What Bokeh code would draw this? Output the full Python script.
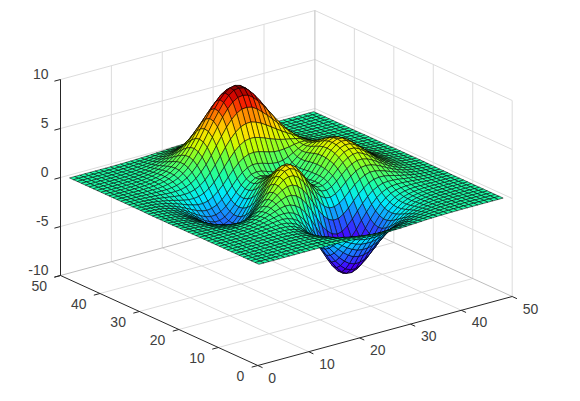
import numpy as np
from bokeh.plotting import figure
from bokeh.models import Range1d, ColumnDataSource
from bokeh.core.properties import value
from bokeh.embed import file_html
from bokeh.resources import INLINE

# Axis ticks
x_ticks = [0, 10, 20, 30, 40, 50]
y_ticks = [0, 10, 20, 30, 40, 50]
z_ticks = [-10, -5, 0, 5, 10]

# Surface heights, estimated by hand node by node; row = y index 1..49, column = x index 1..49
z_rows = [
[0, 0,0,0,0, 0,0,0,0, 0,0,0,0, -.01,-.01,-.02,-.03, -.05,-.08,-.11,-.14, -.18,-.21,-.23,-.25, -.25,-.25,-.24,-.22, -.2,-.17,-.14,-.11, -.08,-.06,-.04,-.03, -.02,-.01,-.01,0, 0,0,0,0, 0,0,0,0],
[0, 0,0,0,0, 0,0,0,0, 0,0,0,.01, 0,-.02,-.04,-.06, -.1,-.14,-.18,-.23, -.29,-.34,-.39,-.42, -.45,-.45,-.44,-.4, -.36,-.31,-.26,-.2, -.15,-.11,-.08,-.05, -.03,-.02,-.01,-.01, 0,0,0,0, 0,0,0,0],
[0, 0,0,0,0, 0,0,.01,.01, .01,.01,.01,0, -.01,-.03,-.06,-.09, -.15,-.22,-.3,-.39, -.47,-.55,-.62,-.68, -.71,-.7,-.67,-.61, -.54,-.46,-.38,-.3, -.23,-.17,-.12,-.08, -.05,-.03,-.02,-.02, -.01,0,0,0, 0,0,0,0],
[0, 0,0,0,0, 0,.01,.01,.01, .01,.01,.01,0, -.01,-.04,-.09,-.16, -.25,-.36,-.48,-.62, -.75,-.87,-.98,-1.06, -1.1,-1.1,-1.04,-.95, -.84,-.72,-.59,-.46, -.35,-.26,-.18,-.12, -.08,-.05,-.03,-.02, -.01,0,0,0, 0,0,0,0],
[0, 0,0,0,0, .01,.01,.02,.02, .02,.02,.01,0, -.02,-.06,-.14,-.24, -.36,-.53,-.72,-.92, -1.12,-1.31,-1.46,-1.57, -1.6,-1.59,-1.53,-1.41, -1.24,-1.06,-.87,-.69, -.53,-.39,-.28,-.19, -.13,-.08,-.05,-.03, -.02,-.01,0,0, 0,0,0,0],
[0, 0,0,0,.01, .01,.01,.02,.02, .03,.03,.02,.01, -.03,-.1,-.19,-.33, -.52,-.75,-1.01,-1.29, -1.59,-1.86,-2.08,-2.23, -2.29,-2.27,-2.17,-2.0, -1.78,-1.51,-1.24,-.98, -.75,-.55,-.39,-.27, -.17,-.11,-.07,-.04, -.03,-.01,-.01,0, 0,0,0,0],
[0, 0,0,0,.01, .01,.02,.02,.03, .04,.03,.03,0, -.04,-.13,-.26,-.44, -.69,-1.0,-1.36,-1.75, -2.14,-2.51,-2.81,-3.02, -3.11,-3.09,-2.95,-2.72, -2.4,-2.05,-1.68,-1.33, -1.01,-.75,-.52,-.36, -.23,-.14,-.08,-.05, -.03,-.02,-.01,0, 0,0,0,0],
[0, 0,0,.01,.01, .01,.02,.03,.04, .05,.05,.04,.02, -.04,-.15,-.3,-.54, -.87,-1.27,-1.72,-2.2, -2.7,-3.18,-3.59,-3.88, -4.0,-3.97,-3.8,-3.52, -3.11,-2.65,-2.17,-1.7, -1.3,-.94,-.65,-.44, -.28,-.17,-.1,-.05, -.03,-.02,-.01,0, 0,0,0,0],
[0, 0,0,.01,.01, .02,.03,.04,.05, .06,.07,.07,.05, -.01,-.12,-.31,-.59, -.98,-1.45,-2.03,-2.63, -3.28,-3.88,-4.38,-4.76, -4.93,-4.92,-4.72,-4.35, -3.85,-3.26,-2.66,-2.1, -1.59,-1.14,-.8,-.53, -.33,-.2,-.12,-.06, -.03,-.02,-.01,0, 0,0,0,0],
[0, 0,0,.01,.01, .02,.03,.04,.06, .08,.1,.11,.1, .04,-.06,-.27,-.56, -.99,-1.52,-2.19,-2.91, -3.68,-4.41,-5.02,-5.49, -5.72,-5.73,-5.51,-5.08, -4.5,-3.82,-3.12,-2.44, -1.85,-1.32,-.91,-.59, -.37,-.22,-.12,-.06, -.03,-.02,-.01,0, 0,0,0,0],
[0, 0,0,.01,.01, .02,.03,.05,.07, .1,.13,.15,.16, .13,.05,-.14,-.44, -.88,-1.46,-2.18,-3.0, -3.86,-4.7,-5.41,-5.97, -6.27,-6.33,-6.11,-5.65, -5.0,-4.25,-3.46,-2.69, -2.01,-1.42,-.97,-.6, -.36,-.21,-.11,-.05, -.02,-.01,0,0, 0,0,0,0],
[0, 0,0,0,.01, .01,.02,.04,.08, .11,.15,.19,.24, .24,.2,.04,-.2, -.62,-1.19,-1.92,-2.76, -3.68,-4.6,-5.43,-6.06, -6.44,-6.53,-6.34,-5.88, -5.21,-4.42,-3.56,-2.76, -2.04,-1.4,-.93,-.57, -.32,-.17,-.07,-.02, .01,.01,.01,.01, 0,0,0,0],
[0, 0,0,0,.01, .01,.02,.04,.08, .13,.18,.24,.33, .38,.41,.35,.16, -.16,-.68,-1.34,-2.16, -3.1,-4.07,-4.96,-5.67, -6.1,-6.3,-6.15,-5.75, -5.09,-4.31,-3.44,-2.63, -1.89,-1.27,-.79,-.44, -.21,-.07,.01,.04, .04,.04,.03,.025, .02,.01,0,0],
[0, 0,0,0,.01, .01,.02,.04,.06, .11,.19,.27,.39, .52,.63,.67,.61, .42,.03,-.53,-1.31, -2.17,-3.14,-4.08,-4.84, -5.4,-5.66,-5.59,-5.26, -4.65,-3.91,-3.08,-2.29, -1.59,-.99,-.54,-.22, -.03,.08,.12,.12, .11,.09,.06,.04, .03,.02,.01,0],
[0, 0,0,0,0, 0,-.02,0,.03, .08,.17,.28,.45, .64,.83,1.01,1.11, 1.08,.87,.48,-.13, -.92,-1.84,-2.79,-3.6, -4.25,-4.6,-4.65,-4.42, -3.89,-3.24,-2.46,-1.74, -1.1,-.56,-.18,.08, .22,.26,.26,.22, .18,.14,.1,.06, .04,.03,.01,.01],
[0, 0,-.01,-.02,-.03, -.03,-.03,-.03,-.03, .02,.11,.25,.41, .67,.98,1.27,1.54, 1.74,1.75,1.54,1.1, .43,-.39,-1.28,-2.2, -2.85,-3.32,-3.48,-3.35, -2.93,-2.36,-1.68,-1.04, -.48,-.03,.27,.45, .5,.48,.43,.35, .27,.19,.13,.085, .05,.03,.02,.01],
[-.01, -.02,-.03,-.04,-.06, -.08,-.1,-.12,-.13, -.1,-.04,.09,.3, .6,.99,1.42,1.85, 2.23,2.45,2.47,2.22, 1.72,.99,.14,-.73, -1.47,-2.0,-2.25,-2.22, -1.91,-1.43,-.83,-.27, .2,.58,.8,.88, .86,.76,.63,.5, .38,.27,.18,.11, .07,.04,.02,.01],
[-.01, -.02,-.04,-.06,-.08, -.12,-.18,-.23,-.26, -.27,-.24,-.14,.07, .39,.82,1.4,1.95, 2.48,2.93,3.14,3.1, 2.76,2.16,1.37,.5, -.26,-.86,-1.18,-1.2, -.97,-.54,-.01,.49, .89,1.19,1.36,1.33, 1.22,1.05,.85,.66, .49,.35,.23,.145, .09,.05,.03,.017],
[-.01, -.03,-.06,-.09,-.12, -.2,-.3,-.38,-.42, -.48,-.5,-.42,-.28, .03,.5,1.1,1.78, 2.48,3.09,3.5,3.64, 3.43,2.94,2.22,1.4, .62,0,-.35,-.41, -.2,.2,.71,1.18, 1.55,1.79,1.85,1.77, 1.6,1.35,1.08,.82, .6,.42,.28,.18, .11,.06,.03,.02],
[-.01, -.04,-.07,-.11,-.16, -.25,-.37,-.48,-.6, -.75,-.83,-.85,-.72, -.45,.02,.64,1.38, 2.19,2.93,3.48,3.77, 3.71,3.31,2.66,1.89, 1.12,.51,.17,.11, .34,.77,1.28,1.76, 2.1,2.31,2.32,2.19, 1.95,1.63,1.3,.98, .72,.5,.33,.21, .13,.07,.04,.02],
[-.02, -.05,-.09,-.14,-.2, -.3,-.45,-.62,-.8, -.99,-1.17,-1.27,-1.21, -1.02,-.6,.02,.8, 1.66,2.5,3.16,3.56, 3.6,3.3,2.73,2.0, 1.28,.71,.39,.39, .66,1.13,1.69,2.2, 2.56,2.77,2.8,2.55, 2.24,1.87,1.48,1.12, .82,.58,.38,.24, .15,.09,.05,.03],
[-.02, -.05,-.09,-.15,-.22, -.33,-.53,-.73,-.99, -1.24,-1.5,-1.68,-1.72, -1.59,-1.22,-.64,.12, 1.01,1.91,2.64,3.11, 3.25,3.03,2.52,1.86, 1.19,.67,.42,.48, .83,1.36,2.0,2.53, 2.93,3.1,3.09,2.86, 2.5,2.09,1.66,1.25, .92,.65,.43,.26, .16,.1,.06,.03],
[-.03, -.06,-.1,-.17,-.26, -.4,-.6,-.85,-1.15, -1.47,-1.78,-2.04,-2.16, -2.12,-1.82,-1.31,-.56, .32,1.25,2.03,2.58, 2.78,2.63,2.18,1.58, .98,.52,.34,.48, .9,1.5,2.16,2.76, 3.18,3.37,3.34,3.08, 2.7,2.24,1.78,1.34, .98,.69,.46,.28, .17,.1,.06,.03],
[-.03, -.07,-.11,-.18,-.29, -.44,-.66,-.93,-1.26, -1.63,-2.0,-2.32,-2.51, -2.56,-2.34,-1.87,-1.18, -.31,.62,1.42,2.0, 2.26,2.17,1.81,1.27, .74,.36,.23,.43, .9,1.55,2.27,2.9, 3.33,3.54,3.49,3.21, 2.8,2.33,1.85,1.4, 1.02,.71,.48,.29, .18,.11,.06,.03],
[-.03, -.07,-.12,-.19,-.3, -.46,-.69,-.98,-1.33, -1.73,-2.14,-2.51,-2.77, -2.87,-2.7,-2.3,-1.65, -.83,.08,.88,1.48, 1.78,1.74,1.45,.98, .5,.2,.13,.375, .88,1.57,2.31,2.94, 3.38,3.59,3.55,3.27, 2.86,2.36,1.87,1.41, 1.04,.72,.48,.3, .18,.11,.06,.03],
[-.03, -.07,-.11,-.18,-.3, -.46,-.7,-1.0,-1.35, -1.76,-2.19,-2.59,-2.87, -3.03,-2.93,-2.57,-1.98, -1.21,-.34,.44,1.03, 1.35,1.36,1.12,.73, .33,.07,.05,.32, .85,1.54,2.27,2.9, 3.33,3.53,3.48,3.2, 2.79,2.32,1.84,1.39, 1.02,.71,.47,.29, .18,.11,.06,.03],
[-.03, -.06,-.1,-.17,-.29, -.45,-.68,-.97,-1.32, -1.73,-2.16,-2.56,-2.87, -3.04,-2.97,-2.69,-2.15, -1.45,-.64,.1,.68, 1.0,1.04,.83,.52, .17,-.04,-.02,.27, .8,1.47,2.17,2.76, 3.18,3.36,3.32,3.05, 2.66,2.21,1.76,1.32, .97,.68,.45,.27, .17,.1,.06,.03],
[-.03, -.05,-.09,-.15,-.27, -.42,-.63,-.92,-1.25, -1.62,-2.05,-2.42,-2.74, -2.91,-2.87,-2.63,-2.16, -1.52,-.78,-.1,.45, .77,.84,.69,.41, .14,-.03,0,.27, .76,1.37,2.03,2.58, 2.94,3.12,3.09,2.83, 2.46,2.05,1.62,1.21, .89,.62,.41,.25, .15,.09,.05,.03],
[-.03, -.05,-.08,-.14,-.25, -.38,-.57,-.82,-1.12, -1.47,-1.85,-2.22,-2.48, -2.66,-2.65,-2.43,-2.0, -1.42,-.76,-.12,.39, .7,.78,.68,.46, .24,.1,.13,.37, .8,1.35,1.9,2.38, 2.7,2.84,2.78,2.55, 2.22,1.84,1.44,1.09, .8,.56,.37,.23, .14,.08,.05,.03],
[-.02, -.04,-.07,-.12,-.2, -.33,-.5,-.72,-.98, -1.29,-1.62,-1.92,-2.16, -2.29,-2.26,-2.06,-1.67, -1.13,-.52,.07,.56, .89,1.0,.95,.77, .59,.46,.48,.64, .98,1.42,1.86,2.23, 2.46,2.55,2.47,2.25, 1.95,1.62,1.28,.95, .69,.48,.32,.2, .12,.07,.04,.02],
[-.01, -.03,-.06,-.1,-.18, -.28,-.42,-.6,-.82, -1.07,-1.33,-1.57,-1.76, -1.85,-1.78,-1.56,-1.16, -.64,-.05,.55,1.04, 1.38,1.55,1.54,1.42, 1.26,1.13,1.08,1.17, 1.38,1.65,1.94,2.18, 2.3,2.32,2.2,1.98, 1.7,1.4,1.1,.82, .6,.42,.28,.17, .1,.06,.03,.02],
[-.01, -.02,-.05,-.08,-.14, -.22,-.33,-.48,-.65, -.84,-1.04,-1.19,-1.31, -1.33,-1.22,-.93,-.51, .03,.65,1.27,1.81, 2.2,2.43,2.49,2.42, 2.27,2.11,1.99,1.95, 2.0,2.07,2.18,2.25, 2.24,2.15,1.99,1.75, 1.49,1.2,.94,.69, .5,.35,.23,.14, .09,.05,.03,.01],
[-.01, -.02,-.03,-.06,-.11, -.17,-.27,-.36,-.48, -.62,-.75,-.84,-.86, -.79,-.6,-.25,.23, .83,1.5,2.18,2.8, 3.28,3.59,3.71,3.69, 3.54,3.34,3.13,2.94, 2.78,2.66,2.55,2.44, 2.29,2.08,1.84,1.58, 1.3,1.03,.78,.58, .41,.28,.18,.11, .07,.04,.02,.01],
[0, -.01,-.02,-.04,-.08, -.12,-.18,-.25,-.33, -.41,-.47,-.48,-.43, -.27,0,.43,1.0, 1.67,2.43,3.19,3.89, 4.45,4.86,5.05,5.08, 4.92,4.68,4.36,4.02, 3.67,3.33,3.01,2.7, 2.39,2.07,1.76,1.44, 1.15,.9,.67,.485, .34,.23,.15,.09, .05,.03,.02,.01],
[0, -.01,-.01,-.03,-.05, -.08,-.11,-.15,-.2, -.23,-.22,-.18,-.05, .18,.54,1.05,1.69, 2.45,3.3,4.13,4.93, 5.57,6.06,6.35,6.39, 6.27,5.94,5.5,5.03, 4.5,3.98,3.46,2.97, 2.51,2.1,1.7,1.35, 1.04,.79,.58,.41, .28,.19,.12,.07, .04,.03,.01,.01],
[0, 0,-.01,-.02,-.03, -.04,-.06,-.08,-.09, -.08,-.03,.07,.27, .55,.98,1.55,2.25, 3.1,4.0,4.9,5.77, 6.47,7.03,7.35,7.43, 7.3,6.94,6.42,5.84, 5.14,4.47,3.8,3.18, 2.6,2.1,1.65,1.27, .95,.7,.5,.35, .24,.16,.1,.06, .04,.02,.01,.01],
[0, 0,0,-.01,-.02, -.02,-.02,-.02,-.01, .03,.12,.25,.47, .81,1.27,1.89,2.6, 3.46,4.39,5.31,6.16, 6.94,7.52,7.91,7.98, 7.87,7.46,6.9,6.22, 5.48,4.72,3.95,3.24, 2.6,2.05,1.58,1.18, .87,.62,.43,.29, .19,.13,.08,.05, .03,.02,.01,0],
[0, 0,0,0,-.01, -.01,0,.02,.05, .11,.21,.37,.62, .97,1.43,2.04,2.76, 3.58,4.49,5.4,6.27, 7.03,7.6,7.97,8.08, 7.94,7.56,7.0,6.3, 5.52,4.71,3.92,3.18, 2.52,1.94,1.48,1.08, .78,.55,.38,.25, .17,.11,.07,.04, .02,.01,.01,0],
[0, 0,0,0,0, .01,.02,.04,.08, .14,.25,.41,.65, 1.0,1.44,2.01,2.69, 3.47,4.31,5.16,5.98, 6.69,7.23,7.56,7.68, 7.54,7.21,6.67,6.0, 5.24,4.45,3.68,2.96, 2.32,1.77,1.33,.96, .68,.47,.32,.21, .14,.09,.05,.03, .02,.01,0,0],
[0, 0,0,0,0, .01,.02,.05,.08, .15,.25,.41,.63, .94,1.34,1.85,2.44, 3.13,3.87,4.63,5.35, 5.98,6.47,6.77,6.88, 6.76,6.46,5.97,5.36, 4.68,3.96,3.27,2.61, 2.05,1.55,1.15,.82, .57,.39,.26,.17, .11,.07,.04,.02, .01,.01,0,0],
[0, 0,0,0,0, .01,.02,.05,.08, .14,.23,.36,.56, .82,1.16,1.59,2.1, 2.67,3.3,3.95,4.56, 5.09,5.5,5.76,5.86, 5.76,5.5,5.09,4.57, 4.0,3.38,2.78,2.21, 1.72,1.3,.95,.68, .47,.32,.21,.13, .08,.05,.03,.02, .01,0,0,0],
[0, 0,0,0,0, .01,.02,.04,.07, .12,.19,.3,.46, .67,.95,1.3,1.7, 2.17,2.68,3.19,3.68, 4.09,4.42,4.64,4.72, 4.64,4.42,4.09,3.68, 3.22,2.74,2.25,1.78, 1.38,1.05,.76,.53, .37,.25,.16,.1, .06,.04,.02,.01, .01,0,0,0],
[0, 0,0,0,0, .01,.01,.03,.05, .09,.15,.24,.37, .53,.75,1.01,1.33, 1.68,2.07,2.46,2.84, 3.17,3.43,3.59,3.65, 3.59,3.43,3.17,2.85, 2.49,2.1,1.72,1.37, 1.06,.8,.58,.41, .28,.19,.12,.07, .05,.03,.02,.01, 0,0,0,0],
[0, 0,0,0,0, .01,.01,.02,.04, .07,.11,.17,.27, .39,.55,.75,.98, 1.24,1.53,1.82,2.09, 2.33,2.52,2.64,2.68, 2.64,2.52,2.33,2.09, 1.82,1.54,1.26,1.0, .77,.58,.42,.29, .2,.13,.08,.05, .03,.02,.01,.01, 0,0,0,0],
[0, 0,0,0,0, 0,.01,.02,.03, .05,.08,.13,.2, .28,.39,.53,.69, .87,1.07,1.27,1.47, 1.64,1.77,1.85,1.88, 1.85,1.77,1.64,1.47, 1.28,1.08,.88,.7, .54,.4,.29,.2, .14,.09,.05,.03, .02,.01,.01,0, 0,0,0,0],
[0, 0,0,0,0, 0,.01,.01,.02, .03,.05,.09,.13, .19,.26,.35,.47, .59,.72,.86,.99, 1.1,1.19,1.25,1.27, 1.25,1.19,1.1,.99, .86,.73,.59,.47, .36,.27,.19,.13, .09,.06,.03,.02, .01,.01,0,0, 0,0,0,0],
[0, 0,0,0,0, 0,0,.01,.01, .02,.03,.06,.09, .12,.17,.23,.3, .38,.47,.55,.64, .71,.77,.81,.82, .81,.77,.71,.64, .55,.47,.38,.3, .23,.17,.12,.09, .06,.04,.02,.01, .01,0,0,0, 0,0,0,0],
[0, 0,0,0,0, 0,0,0,.01, .01,.02,.03,.05, .07,.1,.14,.19, .23,.28,.34,.39, .43,.47,.49,.5, .49,.47,.43,.39, .34,.28,.23,.18, .14,.11,.07,.05, .04,.02,.01,.01, 0,0,0,0, 0,0,0,0],
[0, 0,0,0,0, 0,0,0,0, .01,.01,.02,.03, .05,.06,.09,.11, .14,.17,.2,.23, .26,.28,.3,.3, .3,.28,.26,.23, .2,.17,.14,.11, .09,.07,.05,.03, .02,.01,.01,0, 0,0,0,0, 0,0,0,0],
]

Z = np.array(z_rows, dtype=float)
ny, nx = Z.shape

# Orthographic view: screen position of the box corner and one data unit along each axis
ORIGIN = (257.3, 365.0)      # x=0, y=0, z=-10
EX = (254.4 / 50, -69.0 / 50)
EY = (-197.3 / 50, -90.0 / 50)
EZ = (0.0, -196.0 / 20)


def project(x, y, z):
    return (ORIGIN[0] + x * EX[0] + y * EY[0] + (z + 10) * EZ[0],
            ORIGIN[1] + x * EX[1] + y * EY[1] + (z + 10) * EZ[1])


STOPS_T = [0, .12, .25, .36, .45, .55, .62, .70, .80, .90, 1]
STOPS_R = [70, 70, 30, 0, 30, 110, 200, 255, 255, 245, 130]
STOPS_G = [0, 0, 110, 235, 255, 255, 255, 225, 135, 10, 0]
STOPS_B = [170, 255, 255, 255, 165, 60, 0, 0, 0, 0, 0]


def colour(v):
    t = (v - Z.min()) / (Z.max() - Z.min())
    return "#%02x%02x%02x" % (int(np.interp(t, STOPS_T, STOPS_R)),
                              int(np.interp(t, STOPS_T, STOPS_G)),
                              int(np.interp(t, STOPS_T, STOPS_B)))


# The data ranges equal the reference's pixel frame, so one unit is one screen pixel
p = figure(width=564, height=385, output_backend="svg", toolbar_location=None,
           x_range=Range1d(0, 564), y_range=Range1d(385, 0),
           min_border=0, outline_line_color=None)
p.xaxis.visible = False
p.yaxis.visible = False
p.grid.visible = False

GRID = "#dcdcdc"
EDGE = "#bdbdbd"
AXIS = "#262626"


def seg(a, b, color, width=1.0):
    pa, pb = project(*a), project(*b)
    p.line([pa[0], pb[0]], [pa[1], pb[1]], line_color=color, line_width=width)


xmax, ymax, zmin, zmax = x_ticks[-1], y_ticks[-1], z_ticks[0], z_ticks[-1]
for xt in x_ticks[1:-1]:
    seg((xt, 0, zmin), (xt, ymax, zmin), GRID)
    seg((xt, ymax, zmin), (xt, ymax, zmax), GRID)
for yt in y_ticks[1:-1]:
    seg((0, yt, zmin), (xmax, yt, zmin), GRID)
    seg((xmax, yt, zmin), (xmax, yt, zmax), GRID)
for zt in z_ticks[1:]:
    seg((0, ymax, zt), (xmax, ymax, zt), GRID)
    seg((xmax, ymax, zt), (xmax, 0, zt), GRID)
seg((xmax, 0, zmin), (xmax, 0, zmax), GRID)
seg((0, ymax, zmin), (xmax, ymax, zmin), EDGE)
seg((xmax, 0, zmin), (xmax, ymax, zmin), EDGE)
seg((xmax, ymax, zmin), (xmax, ymax, zmax), EDGE)

# Surface: quads from back to front, each coloured by its first corner
xs, ys, cols = [], [], []
for j in range(ny - 2, -1, -1):
    for i in range(nx - 2, -1, -1):
        corners = [(i, j), (i + 1, j), (i + 1, j + 1), (i, j + 1)]
        pts = [project(a + 1, b + 1, Z[b, a]) for a, b in corners]
        xs.append([q[0] for q in pts])
        ys.append([q[1] for q in pts])
        cols.append(colour(Z[j, i]))
p.patches("xs", "ys", source=ColumnDataSource(dict(xs=xs, ys=ys, c=cols)),
          fill_color="c", line_color="black", line_width=0.55)

# Axes in front
seg((0, 0, zmin), (xmax, 0, zmin), AXIS)
seg((0, 0, zmin), (0, ymax, zmin), AXIS)
seg((0, ymax, zmin), (0, ymax, zmax), AXIS)
TICK = 1.2
for xt in x_ticks:
    seg((xt, 0, zmin), (xt, -TICK, zmin), AXIS)
for yt in y_ticks:
    seg((0, yt, zmin), (-TICK, yt, zmin), AXIS)
for zt in z_ticks:
    seg((0, ymax, zt), (-TICK, ymax, zt), AXIS)

FONT = value("Liberation Sans")
TEXT = "#404040"
tx, ty, tt = [], [], []
for xt in x_ticks:
    q = project(xt, 0, zmin)
    tx.append(q[0] + 10.5); ty.append(q[1] + 12); tt.append(str(xt))
p.text(tx, ty, text=tt, text_font=FONT, text_font_size="14px", text_color=TEXT,
       text_align="left", text_baseline="middle")
tx, ty, tt = [], [], []
for yt in y_ticks:
    q = project(0, yt, zmin)
    tx.append(q[0] - 13.5); ty.append(q[1] + 10); tt.append(str(yt))
p.text(tx, ty, text=tt, text_font=FONT, text_font_size="14px", text_color=TEXT,
       text_align="right", text_baseline="middle")
tx, ty, tt = [], [], []
for zt in z_ticks:
    q = project(0, ymax, zt)
    tx.append(q[0] - 12); ty.append(q[1] - 5.5); tt.append(str(zt))
p.text(tx, ty, text=tt, text_font=FONT, text_font_size="14px", text_color=TEXT,
       text_align="right", text_baseline="middle")

open("out.html", "w").write(file_html(p, INLINE))
